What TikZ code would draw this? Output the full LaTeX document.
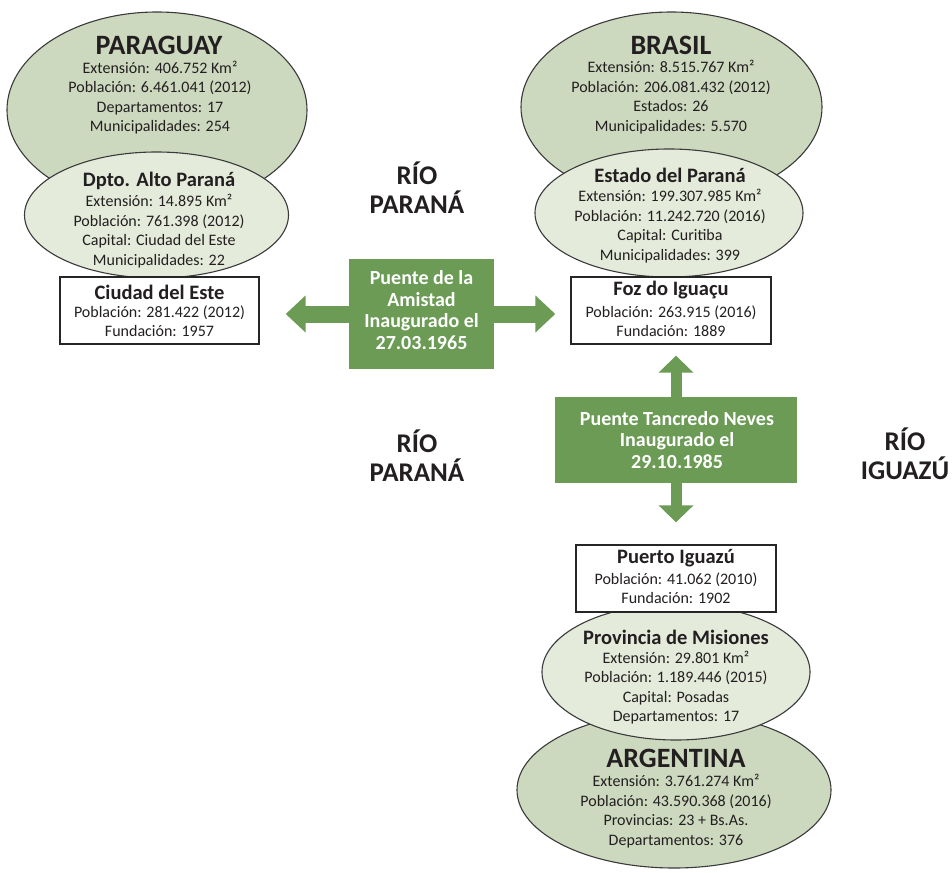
\documentclass[tikz,border=0pt]{standalone}
\usepackage{fontspec}
\setmainfont{Carlito}
\usetikzlibrary{shapes.geometric,arrows.meta}
\definecolor{outerfill}{HTML}{CDD9BF}
\definecolor{innerfill}{HTML}{E4EBDB}
\definecolor{bridgegreen}{HTML}{6B9B55}
\definecolor{txt}{HTML}{231F20}
\definecolor{edge}{HTML}{3A3A3A}
\tikzset{
 outerell/.style={ellipse, draw=edge, line width=1.1pt, fill=outerfill, inner sep=0},
 innerell/.style={ellipse, draw=edge, line width=1.1pt, fill=innerfill, inner sep=0},
 citybox/.style={rectangle, draw=black!85, line width=1.4pt, fill=white, inner sep=0},
 bridgebox/.style={rectangle, fill=bridgegreen, inner sep=0},
 title/.style={font=\fontsize{28}{30}\selectfont\bfseries, text=txt, inner sep=0},
 subtitle/.style={font=\fontsize{20.5}{22}\selectfont\bfseries, text=txt, inner sep=0},
 body/.style={font=\fontsize{16}{19.5}\selectfont, text=txt, align=center, inner sep=0},
 bridgetext/.style={font=\fontsize{20}{21.5}\selectfont\bfseries, text=white, align=center, inner sep=0},
 river/.style={font=\fontsize{27}{29}\selectfont\bfseries, text=txt, align=center, inner sep=0},
 bigarrow/.style={draw=bridgegreen, line width=17pt, -{Triangle[width=36pt,length=20pt]}},
 thinarrow/.style={draw=bridgegreen, line width=11pt, -{Triangle[width=34pt,length=17pt]}},
}
\begin{document}
\begin{tikzpicture}[x=1pt,y=-1pt]
\useasboundingbox (0,0) rectangle (952,872);

% Paraguay
\node[outerell, minimum width=300pt, minimum height=196pt] (py) at (157,110) {};
\node[innerell, minimum width=264pt, minimum height=126pt] (ap) at (156.5,215) {};
\node[citybox, minimum width=199pt, minimum height=67pt] (cde) at (159.5,310.5) {};
\node[title] (pyT) at (159,45) {PARAGUAY};
\node[body] (pyB) at (160,97.5) {Extensión: 406.752 Km²\\Población: 6.461.041 (2012)\\Departamentos: 17\\Municipalidades: 254};
\node[subtitle] (apT) at (159,181) {Dpto. Alto Paraná};
\node[body] (apB) at (159,231) {Extensión: 14.895 Km²\\Población: 761.398 (2012)\\Capital: Ciudad del Este\\Municipalidades: 22};
\node[subtitle] (cdeT) at (159.5,292) {Ciudad del Este};
\node[body] (cdeB) at (159.5,321) {Población: 281.422 (2012)\\Fundación: 1957};

% Brasil
\node[outerell, minimum width=301pt, minimum height=190pt] (br) at (671.5,107) {};
\node[innerell, minimum width=268pt, minimum height=128pt] (pr) at (669,213) {};
\node[citybox, minimum width=200pt, minimum height=67pt] (foz) at (671,310.5) {};
\node[title] (brT) at (671,45) {BRASIL};
\node[body] (brB) at (671,97) {Extensión: 8.515.767 Km²\\Población: 206.081.432 (2012)\\Estados: 26\\Municipalidades: 5.570};
\node[subtitle] (prT) at (670,175) {Estado del Paraná};
\node[body] (prB) at (670,226) {Extensión: 199.307.985 Km²\\Población: 11.242.720 (2016)\\Capital: Curitiba\\Municipalidades: 399};
\node[subtitle] (fozT) at (671,290) {Foz do Iguaçu};
\node[body] (fozB) at (671,321) {Población: 263.915 (2016)\\Fundación: 1889};

% Argentina
\node[outerell, minimum width=314pt, minimum height=156pt] (ar) at (674,790) {};
\node[innerell, minimum width=268pt, minimum height=136pt] (mi) at (676,672) {};
\node[citybox, minimum width=200pt, minimum height=67pt] (pi) at (676,578.5) {};
\node[subtitle] (piT) at (676,558) {Puerto Iguazú};
\node[body] (piB) at (676,588) {Población: 41.062 (2010)\\Fundación: 1902};
\node[subtitle] (miT) at (676,637) {Provincia de Misiones};
\node[body] (miB) at (676,687.5) {Extensión: 29.801 Km²\\Población: 1.189.446 (2015)\\Capital: Posadas\\Departamentos: 17};
\node[title] (arT) at (676,758) {ARGENTINA};
\node[body] (arB) at (676,811) {Extensión: 3.761.274 Km²\\Población: 43.590.368 (2016)\\Provincias: 23 + Bs.As.\\Departamentos: 376};

% Bridges
\node[bridgebox, minimum width=145pt, minimum height=110pt] (am) at (421.5,314) {};
\node[bridgetext] (amT) at (421.5,310) {Puente de la\\Amistad\\Inaugurado el\\27.03.1965};
\node[bridgebox, minimum width=242pt, minimum height=86pt] (tn) at (676,440) {};
\node[bridgetext] (tnT) at (677,440) {Puente Tancredo Neves\\Inaugurado el\\29.10.1985};

\draw[bigarrow, shorten >=26pt] (am.west) -- (am.west -| cde.east);
\draw[bigarrow, shorten >=15pt] (am.east) -- (am.east -| foz.west);
\draw[thinarrow, shorten >=11pt] (tn.north) -- (tn.north |- foz.south);
\draw[thinarrow, shorten >=22pt] (tn.south) -- (tn.south |- pi.north);

% Rivers
\node[river] (rp1) at (417,188) {RÍO\\PARANÁ};
\node[river] (rp2) at (417,456) {RÍO\\PARANÁ};
\node[river] (ri) at (905,454) {RÍO\\IGUAZÚ};
\end{tikzpicture}
\end{document}
